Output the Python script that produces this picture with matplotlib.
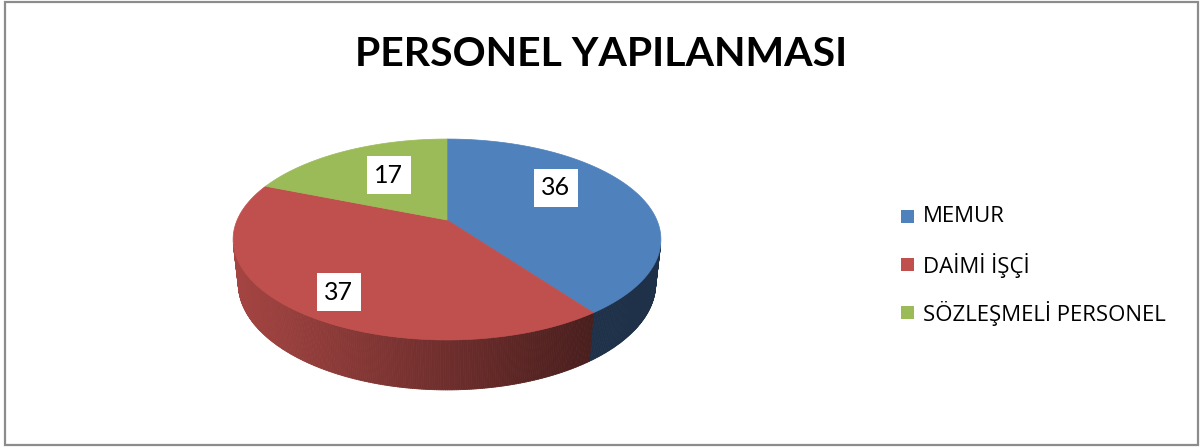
import matplotlib
matplotlib.use("Agg")
import matplotlib.pyplot as plt
import numpy as np
from matplotlib.patches import Polygon, Rectangle
from matplotlib.collections import PolyCollection

title = "PERSONEL YAPILANMASI"
labels = ["MEMUR", "DAİMİ İŞÇİ", "SÖZLEŞMELİ PERSONEL"]
values = [36, 37, 17]
colors = ["#4F81BD", "#C0504D", "#9BBB59"]

# perspective set-up for the 3d pie (pixel units)
cx, cy = 447, 220
f = 960.0
D = 4.575
s, c = 0.4607, 0.8876
h = 0.238
label_nudge = [(-7, -15), (-23, 22), (6, -1)]


def project(X, Y, Z):
    depth = D - Y * s + Z * c
    up = Y * c + Z * s
    return cx + f * X / depth, cy - f * up / depth


def shade(col, x):
    k = np.clip(0.86 - 0.00135 * (x - 235), 0.38, 0.9)
    rgb = np.array(matplotlib.colors.to_rgb(col))
    return tuple(rgb * k)


fig = plt.figure(figsize=(12, 4.48), dpi=100)
ax = fig.add_axes([0, 0, 1, 1])
ax.set_xlim(0, 1200)
ax.set_ylim(448, 0)
ax.axis("off")

ax.add_patch(Rectangle((5, 2), 1193, 443, fill=False, edgecolor="#8c8c8c", lw=1.6))

total = float(sum(values))
starts, ends = [], []
a = 90.0
for v in values:
    starts.append(a)
    a -= 360.0 * v / total
    ends.append(a)

# side walls
polys, fcs = [], []
for st, en, col in zip(starts, ends, colors):
    th = np.radians(np.linspace(st, en, int(abs(st - en) * 2) + 2))
    for t0, t1 in zip(th[:-1], th[1:]):
        tm = 0.5 * (t0 + t1)
        if 1 + D * c * np.sin(tm) >= 0.02:
            continue
        p = [project(np.cos(t0), 0, np.sin(t0)), project(np.cos(t1), 0, np.sin(t1)),
             project(np.cos(t1), -h, np.sin(t1)), project(np.cos(t0), -h, np.sin(t0))]
        polys.append(p)
        fcs.append(shade(col, np.mean([q[0] for q in p])))
ax.add_collection(PolyCollection(polys, facecolors=fcs, edgecolors=fcs, linewidths=0.6))

# top faces
for st, en, col in zip(starts, ends, colors):
    th = np.radians(np.linspace(st, en, 200))
    pts = [project(0, 0, 0)] + [project(np.cos(t), 0, np.sin(t)) for t in th]
    ax.add_patch(Polygon(pts, closed=True, facecolor=col, edgecolor=col, lw=0.5))

# data labels
for st, en, v, nd in zip(starts, ends, values, label_nudge):
    tm = np.radians(0.5 * (st + en))
    x, y = project(0.6 * np.cos(tm), 0, 0.6 * np.sin(tm))
    ax.text(x + nd[0], y + nd[1], str(v), ha="center", va="center", fontsize=18,
            family="Lato", color="black",
            bbox=dict(boxstyle="square,pad=0.3", fc="white", ec="none"))

ax.text(601, 54, title, ha="center", va="center", fontsize=29.5, family="Lato",
        fontweight="bold", color="black")

for i, (lab, col) in enumerate(zip(labels, colors)):
    y = 217 + 48 * i
    ax.add_patch(Rectangle((901, y - 6.5), 13, 13, facecolor=col, edgecolor="none"))
    ax.text(923, y, lab, ha="left", va="center", fontsize=16, family="Open Sans",
            color="black")

fig.savefig("out.png", dpi=100)
